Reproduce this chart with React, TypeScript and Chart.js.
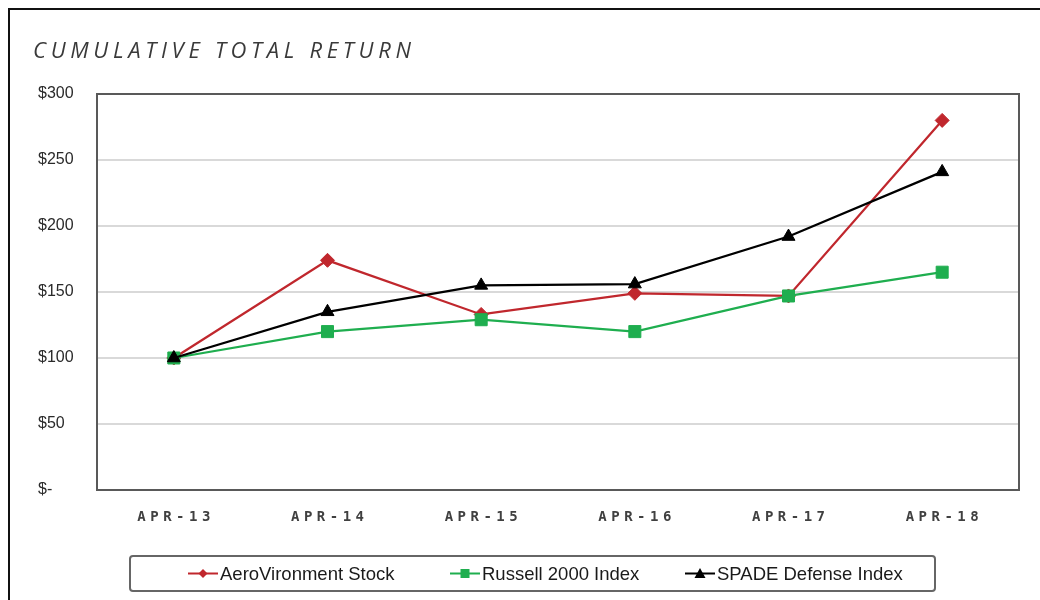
import React, { useEffect, useRef } from "react";
import { Chart, registerables } from "chart.js";

Chart.register(...registerables);

const categories = ["APR-13", "APR-14", "APR-15", "APR-16", "APR-17", "APR-18"];
const aeroVironment = [100, 174, 133, 149, 147, 280];
const russell2000 = [100, 120, 129, 120, 147, 165];
const spadeDefense = [100, 135, 155, 156, 192, 241];
const seriesNames = ["AeroVironment Stock", "Russell 2000 Index", "SPADE Defense Index"];
const yTickLabels = ["$-", "$50", "$100", "$150", "$200", "$250", "$300"];
const titleText = "CUMULATIVE TOTAL RETURN";

const RED = "#c0272d";
const GREEN = "#1fae4f";
const BLACK = "#000000";

function marker(ctx: CanvasRenderingContext2D, style: string, x: number, y: number, s: number, color: string) {
  ctx.fillStyle = color;
  ctx.beginPath();
  if (style === "rectRot") {
    ctx.moveTo(x, y - s);
    ctx.lineTo(x + s, y);
    ctx.lineTo(x, y + s);
    ctx.lineTo(x - s, y);
    ctx.closePath();
  } else if (style === "rect") {
    ctx.rect(x - s, y - s, 2 * s, 2 * s);
  } else {
    ctx.moveTo(x, y - s);
    ctx.lineTo(x + s, y + s * 0.8);
    ctx.lineTo(x - s, y + s * 0.8);
    ctx.closePath();
  }
  ctx.fill();
}

const decorPlugin = {
  id: "decor",
  beforeDatasetsDraw(chart: any) {
    const { ctx, chartArea } = chart;
    ctx.save();
    ctx.strokeStyle = "#595959";
    ctx.lineWidth = 2;
    ctx.strokeRect(chartArea.left, chartArea.top, chartArea.right - chartArea.left, chartArea.bottom - chartArea.top);
    ctx.restore();
  },
  afterDraw(chart: any) {
    const { ctx } = chart;
    const xs = chart.scales.x;
    ctx.save();
    // title
    ctx.font = "italic 22px 'Open Sans', sans-serif";
    (ctx as any).letterSpacing = "4.7px";
    ctx.fillStyle = "#3a3a3a";
    ctx.textAlign = "left";
    ctx.textBaseline = "alphabetic";
    ctx.fillText(titleText, 23, 48);
    // x labels
    ctx.font = "bold 14px 'DejaVu Sans Mono', monospace";
    (ctx as any).letterSpacing = "4.5px";
    ctx.fillStyle = "#404040";
    ctx.textAlign = "center";
    ctx.textBaseline = "middle";
    categories.forEach((c, i) => {
      ctx.fillText(c, xs.getPixelForTick(i) + 2.25, 507);
    });
    (ctx as any).letterSpacing = "0px";
    // legend
    const bx = 120, by = 546, bw = 805, bh = 35;
    ctx.strokeStyle = "#666666";
    ctx.lineWidth = 2;
    ctx.beginPath();
    (ctx as any).roundRect(bx, by, bw, bh, 3);
    ctx.stroke();
    const centers = [193, 455, 690];
    const sizes = [4.5, 4.5, 5.5];
    const cy = by + bh / 2;
    chart.data.datasets.forEach((ds: any, i: number) => {
      const cx = centers[i];
      ctx.strokeStyle = ds.borderColor;
      ctx.lineWidth = 2;
      ctx.beginPath();
      ctx.moveTo(cx - 15, cy);
      ctx.lineTo(cx + 15, cy);
      ctx.stroke();
      marker(ctx, ds.pointStyle, cx, cy, sizes[i], ds.borderColor);
      ctx.fillStyle = "#1a1a1a";
      ctx.font = "18.5px 'Liberation Sans', Arial, sans-serif";
      ctx.textAlign = "left";
      ctx.textBaseline = "middle";
      ctx.fillText(ds.label, cx + 17, cy + 1);
    });
    ctx.restore();
  },
};

export default function App() {
  const ref = useRef<HTMLCanvasElement>(null);
  useEffect(() => {
    document.documentElement.style.overflow = "hidden";
    if (!ref.current) return;
    const mk = (label: string, data: number[], color: string, style: string, r: number, order: number) => ({
      label,
      data,
      order,
      borderColor: color,
      backgroundColor: color,
      pointBackgroundColor: color,
      pointBorderColor: color,
      pointStyle: style,
      pointRadius: r,
      pointBorderWidth: 1,
      borderWidth: 2.25,
      tension: 0,
    });
    const chart = new Chart(ref.current, {
      type: "line",
      data: {
        labels: categories,
        datasets: [
          mk(seriesNames[0], aeroVironment, RED, "rectRot", 7, 3),
          mk(seriesNames[1], russell2000, GREEN, "rect", 8.5, 2),
          mk(seriesNames[2], spadeDefense, BLACK, "triangle", 7.5, 1),
        ],
      },
      options: {
        animation: false,
        responsive: false,
        maintainAspectRatio: false,
        layout: { padding: { top: 84, left: 28, right: 21, bottom: 0 } },
        plugins: { legend: { display: false }, title: { display: false }, tooltip: { enabled: false } },
        scales: {
          x: {
            offset: true,
            grid: { display: false },
            border: { display: false },
            ticks: { color: "transparent" },
            afterFit: (s: any) => {
              s.height = 110;
            },
          },
          y: {
            min: 0,
            max: 300,
            ticks: {
              stepSize: 50,
              color: "#2a2a2a",
              font: { family: "'Liberation Sans', Arial, sans-serif", size: 16 },
              crossAlign: "far",
              padding: 8,
              callback: (_v: any, i: number) => yTickLabels[i],
            },
            grid: { color: "#d9d9d9", lineWidth: 2, drawTicks: false },
            border: { display: false },
            afterFit: (s: any) => {
              s.width = 59;
            },
          },
        },
      },
      plugins: [decorPlugin],
    } as any);
    return () => chart.destroy();
  }, []);
  return (
    <div
      style={{
        position: "fixed",
        left: 8,
        top: 8,
        width: 1030,
        height: 590,
        borderLeft: "2px solid #111",
        borderTop: "2px solid #111",
        background: "#fff",
      }}
    >
      <canvas ref={ref} width={1030} height={590} style={{ display: "block" }} />
    </div>
  );
}
